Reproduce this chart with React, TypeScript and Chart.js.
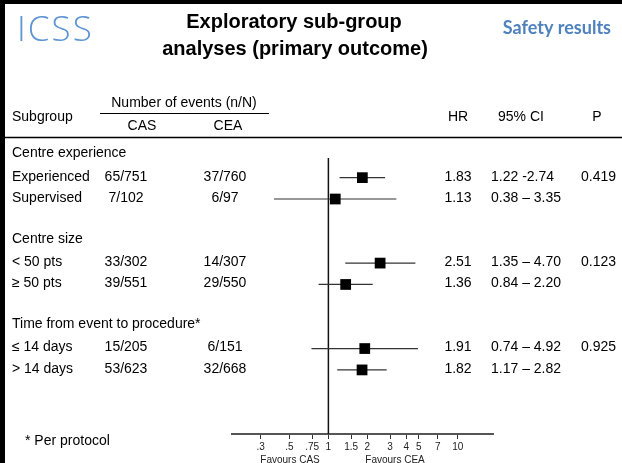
import React, { useEffect, useRef } from "react";
import { Chart, registerables } from "chart.js";

Chart.register(...registerables);

// ---------- data ----------
const groupNames = ["Centre experience", "Centre size", "Time from event to procedure*"];
const rowGroup = [0, 0, 1, 1, 2, 2];
const rowLabels = ["Experienced", "Supervised", "< 50 pts", "\u2265 50 pts", "\u2264 14 days", "> 14 days"];
const casEvents = ["65/751", "7/102", "33/302", "39/551", "15/205", "53/623"];
const ceaEvents = ["37/760", "6/97", "14/307", "29/550", "6/151", "32/668"];
const hrValues = [1.83, 1.13, 2.51, 1.36, 1.91, 1.82];
const ciLow = [1.22, 0.38, 1.35, 0.84, 0.74, 1.17];
const ciHigh = [2.74, 3.35, 4.7, 2.2, 4.92, 2.82];
const ciText = ["1.22 -2.74", "0.38 \u2013 3.35", "1.35 \u2013 4.70", "0.84 \u2013 2.20", "0.74 \u2013 4.92", "1.17 \u2013 2.82"];
const pText = ["0.419", "", "0.123", "", "0.925", ""];
const tickValues = [0.3, 0.5, 0.75, 1, 1.5, 2, 3, 4, 5, 7, 10];
const tickLabels = [".3", ".5", ".75", "1", "1.5", "2", "3", "4", "5", "7", "10"];

// row index in table: each group = header + its rows + blank line
const rowIndex = rowLabels.map((_, i) => {
  const g = rowGroup[i];
  const within = rowGroup.slice(0, i).filter((x) => x === g).length;
  return g * 4 + 1 + within;
});
const groupIndex = groupNames.map((_, g) => g * 4);

const FONT = "'Liberation Sans', Arial, sans-serif";
const Y_MIN = 0.08;
const Y_MAX = 13.0;

const textPlugin = {
  id: "forestText",
  afterDraw(chart: any) {
    const ctx = chart.ctx;
    const y = chart.scales.y;
    ctx.save();
    // frame
    ctx.fillStyle = "#000";
    ctx.fillRect(0, 0, 622, 4);
    ctx.fillRect(0, 0, 5, 463);

    // header texts
    ctx.fillStyle = "#5b93d3";
    ctx.font = "300 35px 'Open Sans', Lato, sans-serif";
    ctx.textAlign = "left";
    ctx.textBaseline = "alphabetic";
    (ctx as any).letterSpacing = "2px";
    ctx.fillText("ICSS", 17, 41);
    (ctx as any).letterSpacing = "0px";

    ctx.fillStyle = "#4f81bd";
    ctx.font = "bold 18px Lato, 'Open Sans', sans-serif";
    ctx.textAlign = "right";
    ctx.fillText("Safety results", 611, 34);

    ctx.fillStyle = "#000";
    ctx.font = `bold 20px ${FONT}`;
    ctx.textAlign = "center";
    ctx.textBaseline = "middle";
    ctx.fillText("Exploratory sub-group", 294, 22);
    ctx.fillText("analyses (primary outcome)", 295, 49);

    // table header
    ctx.font = `14px ${FONT}`;
    ctx.textAlign = "left";
    ctx.fillText("Subgroup", 12, 117);
    ctx.textAlign = "center";
    ctx.fillText("Number of events (n/N)", 184, 103);
    ctx.fillText("CAS", 142, 126);
    ctx.fillText("CEA", 228, 126);
    ctx.fillText("HR", 458, 117);
    ctx.fillText("95% CI", 521, 117);
    ctx.fillText("P", 597, 117);

    ctx.strokeStyle = "#000";
    ctx.lineWidth = 1.2;
    ctx.beginPath();
    ctx.moveTo(100, 113.5);
    ctx.lineTo(269, 113.5);
    ctx.stroke();
    ctx.lineWidth = 1.5;
    ctx.beginPath();
    ctx.moveTo(5, 137.5);
    ctx.lineTo(622, 137.5);
    ctx.stroke();

    // group headers
    ctx.textAlign = "left";
    groupNames.forEach((name, g) => {
      ctx.fillText(name, 12, y.getPixelForValue(groupIndex[g]) - 3);
    });
    // rows
    rowLabels.forEach((label, i) => {
      const py = y.getPixelForValue(rowIndex[i]) - 1;
      ctx.textAlign = "left";
      ctx.fillText(label, 12, py);
      ctx.textAlign = "center";
      ctx.fillText(casEvents[i], 126, py);
      ctx.fillText(ceaEvents[i], 225, py);
      ctx.fillText(hrValues[i].toFixed(2), 458, py);
      ctx.textAlign = "left";
      ctx.fillText(ciText[i], 491, py);
      if (pText[i]) ctx.fillText(pText[i], 581, py);
    });

    ctx.fillText("* Per protocol", 25, 441);

    ctx.font = `10px ${FONT}`;
    ctx.fillStyle = "#222";
    ctx.textAlign = "center";
    ctx.textBaseline = "top";
    ctx.fillText("Favours CAS", 290, 455);
    ctx.fillText("Favours CEA", 395, 455);
    ctx.restore();
  },
};

export default function App() {
  const ref = useRef<HTMLCanvasElement>(null);
  useEffect(() => {
    if (!ref.current) return;
    const ciSets = rowLabels.map((_, i) => ({
      type: "scatter" as const,
      data: [
        { x: ciLow[i], y: rowIndex[i] },
        { x: ciHigh[i], y: rowIndex[i] },
      ],
      showLine: true,
      borderColor: "#333",
      borderWidth: 1.2,
      pointRadius: 0,
      order: 2,
    }));
    const chart = new Chart(ref.current, {
      type: "scatter",
      data: {
        datasets: [
          {
            data: rowLabels.map((_, i) => ({ x: hrValues[i], y: rowIndex[i] })),
            pointStyle: "rect",
            pointRadius: 7.6,
            pointHoverRadius: 7.6,
            backgroundColor: "#000",
            borderWidth: 0,
            order: 0,
          },
          ...ciSets,
          {
            data: [
              { x: 1, y: Y_MIN },
              { x: 1, y: Y_MAX },
            ],
            showLine: true,
            borderColor: "#111",
            borderWidth: 1.5,
            pointRadius: 0,
            order: 3,
          },
        ] as any,
      },
      options: {
        animation: false,
        responsive: false,
        devicePixelRatio: 1,
        layout: { padding: { left: 232, right: 129, top: 158, bottom: 9 } },
        plugins: { legend: { display: false }, tooltip: { enabled: false } },
        events: [],
        scales: {
          x: {
            type: "logarithmic",
            min: 0.18,
            max: 18.7,
            afterBuildTicks: (scale: any) => {
              scale.ticks = tickValues.map((v) => ({ value: v }));
            },
            afterFit: (scale: any) => {
              scale.height = 20;
            },
            grid: {
              drawOnChartArea: false,
              drawTicks: true,
              tickLength: 5,
              color: "#333",
              lineWidth: 1,
            },
            border: { display: true, color: "#555", width: 2 },
            ticks: {
              autoSkip: false,
              maxRotation: 0,
              padding: 2,
              color: "#222",
              font: { size: 10, family: FONT },
              callback: (_v: any, idx: number) => tickLabels[idx],
            },
          },
          y: {
            type: "linear",
            display: false,
            reverse: true,
            min: Y_MIN,
            max: Y_MAX,
          },
        },
      },
      plugins: [textPlugin],
    });
    return () => chart.destroy();
  }, []);
  return (
    <div style={{ position: "absolute", left: 0, top: 0, width: 622, height: 463, background: "#fff" }}>
      <canvas ref={ref} width={622} height={463} style={{ width: 622, height: 463, display: "block" }} />
    </div>
  );
}
